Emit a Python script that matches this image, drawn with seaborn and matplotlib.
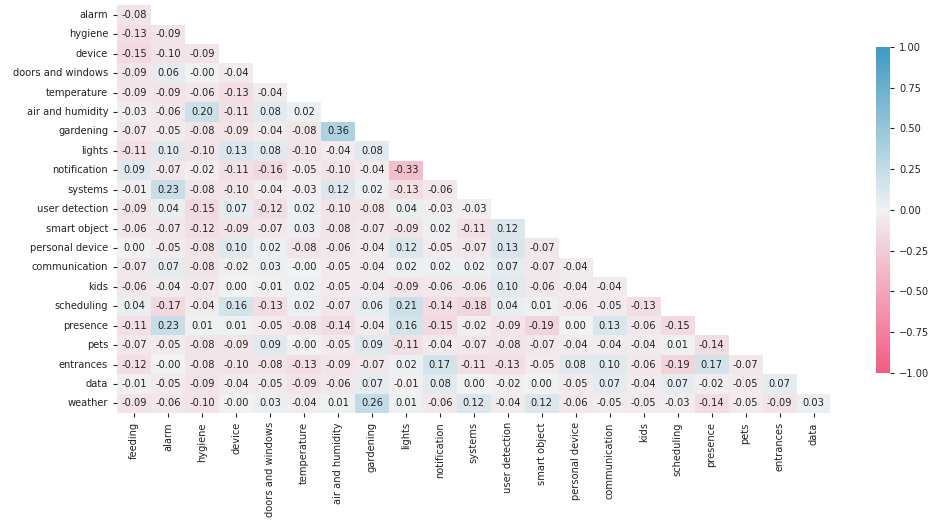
import numpy as np
import pandas as pd
import matplotlib
matplotlib.use("Agg")
import matplotlib.pyplot as plt
import seaborn as sns

row_labels = ["alarm", "hygiene", "device", "doors and windows", "temperature",
              "air and humidity", "gardening", "lights", "notification", "systems",
              "user detection", "smart object", "personal device", "communication",
              "kids", "scheduling", "presence", "pets", "entrances", "data", "weather"]
col_labels = ["feeding", "alarm", "hygiene", "device", "doors and windows", "temperature",
              "air and humidity", "gardening", "lights", "notification", "systems",
              "user detection", "smart object", "personal device", "communication",
              "kids", "scheduling", "presence", "pets", "entrances", "data"]

r_alarm = [-0.08]
r_hygiene = [-0.13, -0.09]
r_device = [-0.15, -0.10, -0.09]
r_doors = [-0.09, 0.06, -0.00, -0.04]
r_temperature = [-0.09, -0.09, -0.06, -0.13, -0.04]
r_air = [-0.03, -0.06, 0.20, -0.11, 0.08, 0.02]
r_gardening = [-0.07, -0.05, -0.08, -0.09, -0.04, -0.08, 0.36]
r_lights = [-0.11, 0.10, -0.10, 0.13, 0.08, -0.10, -0.04, 0.08]
r_notification = [0.09, -0.07, -0.02, -0.11, -0.16, -0.05, -0.10, -0.04, -0.33]
r_systems = [-0.01, 0.23, -0.08, -0.10, -0.04, -0.03, 0.12, 0.02, -0.13, -0.06]
r_user = [-0.09, 0.04, -0.15, 0.07, -0.12, 0.02, -0.10, -0.08, 0.04, -0.03, -0.03]
r_smart = [-0.06, -0.07, -0.12, -0.09, -0.07, 0.03, -0.08, -0.07, -0.09, 0.02, -0.11, 0.12]
r_personal = [0.00, -0.05, -0.08, 0.10, 0.02, -0.08, -0.06, -0.04, 0.12, -0.05, -0.07, 0.13, -0.07]
r_communication = [-0.07, 0.07, -0.08, -0.02, 0.03, -0.00, -0.05, -0.04, 0.02, 0.02, 0.02, 0.07,
                   -0.07, -0.04]
r_kids = [-0.06, -0.04, -0.07, 0.00, -0.01, 0.02, -0.05, -0.04, -0.09, -0.06, -0.06, 0.10,
          -0.06, -0.04, -0.04]
r_scheduling = [0.04, -0.17, -0.04, 0.16, -0.13, 0.02, -0.07, 0.06, 0.21, -0.14, -0.18, 0.04,
                0.01, -0.06, -0.05, -0.13]
r_presence = [-0.11, 0.23, 0.01, 0.01, -0.05, -0.08, -0.14, -0.04, 0.16, -0.15, -0.02, -0.09,
              -0.19, 0.00, 0.13, -0.06, -0.15]
r_pets = [-0.07, -0.05, -0.08, -0.09, 0.09, -0.00, -0.05, 0.09, -0.11, -0.04, -0.07, -0.08,
          -0.07, -0.04, -0.04, -0.04, 0.01, -0.14]
r_entrances = [-0.12, -0.00, -0.08, -0.10, -0.08, -0.13, -0.09, -0.07, 0.02, 0.17, -0.11, -0.13,
               -0.05, 0.08, 0.10, -0.06, -0.19, 0.17, -0.07]
r_data = [-0.01, -0.05, -0.09, -0.04, -0.05, -0.09, -0.06, 0.07, -0.01, 0.08, 0.00, -0.02,
          0.00, -0.05, 0.07, -0.04, 0.07, -0.02, -0.05, 0.07]
r_weather = [-0.09, -0.06, -0.10, -0.00, 0.03, -0.04, 0.01, 0.26, 0.01, -0.06, 0.12, -0.04,
             0.12, -0.06, -0.05, -0.05, -0.03, -0.14, -0.05, -0.09, 0.03]

rows = [r_alarm, r_hygiene, r_device, r_doors, r_temperature, r_air, r_gardening, r_lights,
        r_notification, r_systems, r_user, r_smart, r_personal, r_communication, r_kids,
        r_scheduling, r_presence, r_pets, r_entrances, r_data, r_weather]

n = len(col_labels)
mat = np.full((len(row_labels), n), np.nan)
for i, r in enumerate(rows):
    mat[i, :len(r)] = r
df = pd.DataFrame(mat, index=row_labels, columns=col_labels)
mask = df.isna()

cmap = sns.diverging_palette(0, 230, s=85, l=60, as_cmap=True)

fig = plt.figure(figsize=(9.3, 5.21), dpi=100)
ax = fig.add_axes([0.126, 0.207, 0.767, 0.783])
cax = fig.add_axes([0.942, 0.284, 0.015, 0.626])

fs = 7.1
sns.heatmap(df, mask=mask, cmap=cmap, vmin=-1, vmax=1, center=0, annot=True, fmt=".2f",
            annot_kws={"size": fs, "color": "#222222"}, ax=ax, cbar_ax=cax)

ax.tick_params(axis="both", labelsize=fs, length=3, colors="#222222")
ax.set_yticklabels(ax.get_yticklabels(), rotation=0)
ax.set_xticklabels(ax.get_xticklabels(), rotation=90)
cax.tick_params(labelsize=fs, length=3, colors="#222222")
cax.set_yticks([-1, -0.75, -0.5, -0.25, 0, 0.25, 0.5, 0.75, 1])
cax.set_yticklabels(["−1.00", "−0.75", "−0.50", "−0.25", "0.00", "0.25", "0.50", "0.75", "1.00"])

fig.savefig("out.png", dpi=100)
